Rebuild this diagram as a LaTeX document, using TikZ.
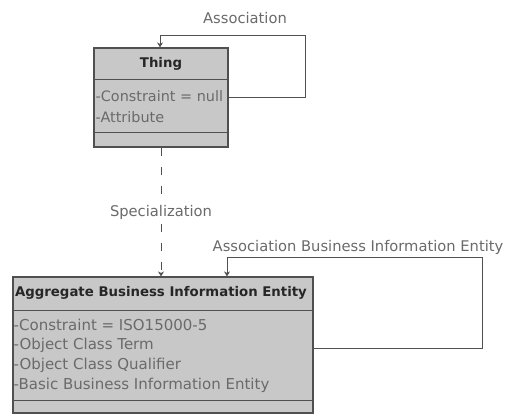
\documentclass[tikz,border=0pt]{standalone}
\usepackage{fontspec}
\setmainfont{DejaVu Sans}
\usetikzlibrary{arrows.meta}
\definecolor{boxfill}{HTML}{C8C8C8}
\definecolor{boxline}{HTML}{505050}
\definecolor{labeltext}{HTML}{6A6A6A}
\tikzset{
  classbox/.style={draw=boxline, fill=boxfill, line width=1.2pt, inner sep=0pt},
  divider/.style={draw=boxline, line width=1pt},
  header/.style={inner sep=0pt, text=black!85, font=\fontsize{13.3}{20}\selectfont\bfseries},
  attr/.style={anchor=west, inner sep=0.5pt, text=labeltext, font=\fontsize{15}{20}\selectfont},
  link/.style={draw=boxline, line width=0.9pt, -{Stealth[length=5pt,width=6pt]}},
  spec/.style={link, dash pattern=on 8pt off 11pt},
  linklabel/.style={inner sep=1pt, text=labeltext, font=\fontsize{14.7}{20}\selectfont}
}
\begin{document}
\begin{tikzpicture}[x=1pt,y=-1pt]
    \useasboundingbox (0,0) rectangle (505,414);

    % Classe Thing con i suoi scomparti
    \node[classbox, minimum width=134pt, minimum height=99pt] (thing) at (161,97.5) {};
    \draw[divider] (thing.west |- 0,80) -- (thing.east |- 0,80);
    \draw[divider] (thing.west |- 0,133) -- (thing.east |- 0,133);
    \node[header] (thingname) at (thing.north |- 0,64) {Thing};
    \node[attr, font=\fontsize{14.4}{20}\selectfont] (thingconstr) at (95,96) {-Constraint = null};
    \node[attr, font=\fontsize{14.4}{20}\selectfont] (thingattr) at (95,117) {-Attribute};

    % Classe Aggregate Business Information Entity
    \node[classbox, minimum width=300pt, minimum height=136pt] (abie) at (163,345) {};
    \draw[divider] (abie.west |- 0,310) -- (abie.east |- 0,310);
    \draw[divider] (abie.west |- 0,400) -- (abie.east |- 0,400);
    \node[header] (abiename) at (161,293) {Aggregate Business Information Entity};
    \node[attr] (abieconstr) at (13,325) {-Constraint = ISO15000-5};
    \node[attr] (abieterm) at (13,345) {-Object Class Term};
    \node[attr] (abiequal) at (13,365) {-Object Class Qualifier};
    \node[attr] (abiebbie) at (13,385) {-Basic Business Information Entity};

    % Associazione ricorsiva su Thing
    \coordinate (thingloop) at (305,35);
    \coordinate (thingend) at (160,35);
    \draw[link] (thing.east |- 0,97) -| (thingloop) -- (thingend) -- (thingend |- thing.north);
    \node[linklabel] (assoclabel) at (245,18) {Association};

    % Specializzazione (linea tratteggiata)
    \draw[spec] (thing.south) -- (abie.north -| thing.south)
        node[midway, fill=white, linklabel] (speclabel) {Specialization};

    % Associazione ricorsiva su ABIE
    \coordinate (abieloop) at (482,257);
    \coordinate (abieend) at (227,257);
    \draw[link] (abie.east |- 0,348) -| (abieloop) -- (abieend) -- (abieend |- abie.north);
    \node[linklabel] (abielabel) at (358,247) {Association Business Information Entity};
\end{tikzpicture}
\end{document}
